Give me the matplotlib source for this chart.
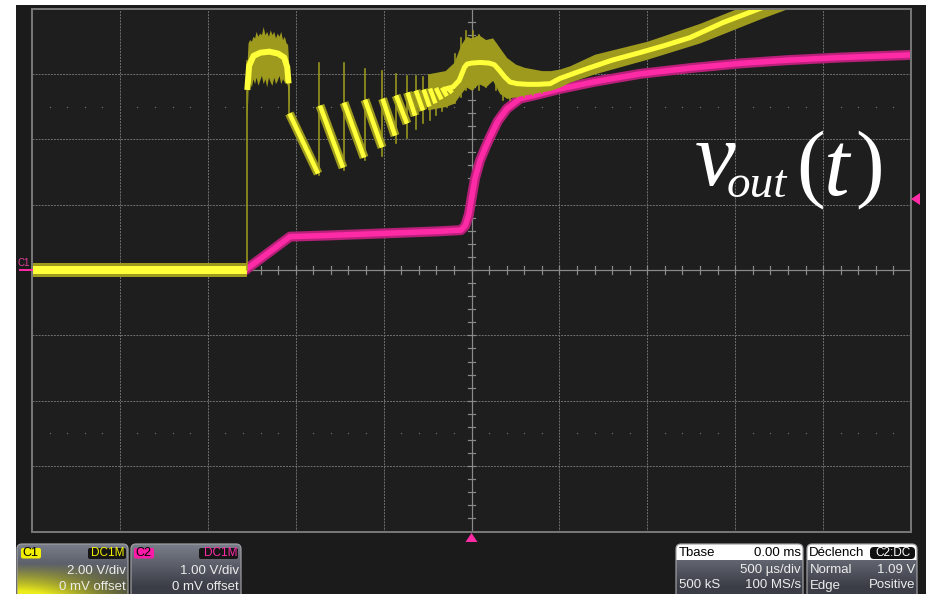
import numpy as np
import matplotlib
matplotlib.use('Agg')
import matplotlib.pyplot as plt
from matplotlib.patches import FancyBboxPatch, Rectangle, Polygon

plt.rcParams['lines.scale_dashes'] = False

W, H, DPI = 926, 594, 100
PX = 72.0 / DPI  # points per pixel

# ---------------- data ----------------
TIME_DIV_US = 500          # 500 us/div, 10 divisions
C1_V_DIV = 2.0             # yellow channel, V/div
C2_V_DIV = 1.0             # pink channel, V/div
TRIG_LEVEL_V = 1.09

# C2 (pink) trace: time (us), volts
c2_t = [-2500, -1285, -1277, -1032, -800, -500, -200, -60, -35, -15, 0, 20, 48, 80, 105,
        150, 202, 276, 400, 503, 700, 958, 1250, 1527, 1800, 2100, 2500]
c2_v = [0.0, 0.0, 0.02, 0.51, 0.53, 0.56, 0.59, 0.61, 0.68, 0.85, 1.09, 1.40, 1.67, 1.88, 2.03,
        2.28, 2.47, 2.62, 2.70, 2.77, 2.88, 3.00, 3.09, 3.16, 3.21, 3.25, 3.29]

# C1 (yellow) baseline before the step
c1_base_t = [-2500, -1278]
c1_base_v = [0.0, 0.0]

# C1 plateau core
c1_plat_t = [-1274, -1265, -1240, -1200, -1150, -1100, -1065, -1048, -1042]
c1_plat_v = [5.6, 6.25, 6.55, 6.65, 6.68, 6.62, 6.5, 6.2, 5.8]
# C1 plateau noise envelope
c1_penv_t = [-1277, -1271, -1262, -1252, -1243, -1234, -1225, -1215, -1205, -1195, -1185, -1175,
             -1165, -1155, -1145, -1135, -1125, -1115, -1105, -1095, -1085, -1075, -1065,
             -1055, -1046, -1038]
c1_penv_hi = [6.3, 6.95, 7.05, 7.0, 7.15, 7.1, 7.3, 7.15, 7.25, 7.2, 7.45, 7.2, 7.3, 7.15, 7.35,
              7.2, 7.3, 7.1, 7.25, 7.15, 7.3, 7.05, 7.15, 6.95, 6.9, 6.1]
c1_penv_lo = [4.6, 5.5, 5.75, 5.6, 5.85, 5.7, 5.9, 5.65, 5.8, 5.95, 5.7, 5.85, 5.6, 5.9, 5.75,
              5.65, 5.9, 5.7, 5.8, 5.95, 5.7, 5.85, 5.75, 5.8, 5.6, 4.9]

# C1 sawtooth teeth: start (t, V) -> end (t, V)
c1_tooth_t0 = [-1036, -862, -725, -606, -506, -429, -364, -316, -272, -236, -202, -168, -137]
c1_tooth_v0 = [4.79, 5.03, 5.12, 5.21, 5.24, 5.34, 5.43, 5.49, 5.52, 5.55, 5.57, 5.58, 5.58]
c1_tooth_t1 = [-873, -731, -611, -509, -435, -367, -321, -276, -239, -205, -171, -140, -110]
c1_tooth_v1 = [2.95, 3.13, 3.44, 3.75, 4.11, 4.48, 4.72, 4.88, 5.00, 5.10, 5.22, 5.32, 5.42]

# C1 thin spikes: time, low, high (V)
c1_spike_t = [-1277, -1038, -867, -728, -608, -508, -432, -366, -318, -274, -237, -203, -169,
              -138, -95, -60, -30, 10, 40, 80, 140, 180, 220, 260, 300, 350, 400]
c1_spike_lo = [0.0, 4.8, 2.9, 3.05, 3.35, 3.5, 3.9, 4.05, 4.3, 4.5, 4.6, 4.75, 4.85,
               5.0, 5.1, 5.3, 5.5, 5.55, 5.5, 5.6, 5.5, 5.2, 5.2, 5.3, 5.3, 5.35, 5.4]
c1_spike_hi = [6.4, 6.2, 6.32, 6.32, 6.15, 6.08, 6.0, 5.95, 5.95, 5.9, 5.85, 5.85, 5.9,
               6.0, 6.6, 7.1, 7.3, 7.3, 7.2, 7.0, 6.9, 6.3, 6.2, 6.1, 6.1, 6.1, 6.05]

# C1 tail (bump and final ramp) core
c1_tail_t = [-140, -105, -70, -40, -25, 0, 48, 100, 130, 160, 190, 219, 260, 320, 380, 447,
             503, 590, 674, 800, 958, 1100, 1243, 1431, 1641, 1900]
c1_tail_v = [5.55, 5.6, 5.8, 6.2, 6.3, 6.33, 6.35, 6.33, 6.28, 6.1, 5.9, 5.75, 5.7, 5.68,
             5.68, 5.7, 5.86, 6.03, 6.19, 6.42, 6.65, 6.87, 7.11, 7.57, 8.0, 8.5]
# C1 tail noise envelope
c1_tenv_t = [-250, -150, -100, -60, -30, 0, 40, 80, 120, 160, 200, 250, 300, 350, 400, 450,
             503, 560, 700, 1000, 1300, 1650, 1900]
c1_tenv_hi = [6.0, 6.1, 6.35, 6.9, 7.15, 7.1, 7.2, 7.05, 7.1, 6.8, 6.5, 6.3, 6.2, 6.15, 6.1,
              6.1, 6.15, 6.25, 6.6, 7.0, 7.55, 8.3, 8.8]
c1_tenv_lo = [4.9, 5.0, 5.1, 5.4, 5.6, 5.5, 5.7, 5.6, 5.8, 5.4, 5.25, 5.3, 5.35, 5.4, 5.45,
              5.5, 5.6, 5.75, 6.0, 6.45, 6.95, 7.7, 8.2]

# Info panel texts
c1_label, c1_coupling, c1_scale, c1_offset = "C1", "DC1M", "2.00 V/div", "0 mV offset"
c2_label, c2_coupling, c2_scale, c2_offset = "C2", "DC1M", "1.00 V/div", "0 mV offset"
tb_title, tb_delay, tb_scale, tb_samples, tb_rate = "Tbase", "0.00 ms", "500 µs/div", "500 kS", "100 MS/s"
trg_title, trg_src, trg_mode, trg_level, trg_type, trg_slope = "Déclench", "C2:DC", "Normal", "1.09 V", "Edge", "Positive"

# ---------------- colors ----------------
BG = '#1e1e1e'
YEL = '#ffff3a'
YEL_DIM = '#9d9a1e'
PINK = '#ff2aa6'
PINK_DIM = '#b8207a'
GRID = '#6e6e6e'
AXC = '#8a8a8a'

fig = plt.figure(figsize=(W / DPI, H / DPI), dpi=DPI, facecolor='white')

# background layer (pixel coords)
bg = fig.add_axes([0, 0, 1, 1], zorder=0)
bg.set_xlim(0, W); bg.set_ylim(H, 0); bg.axis('off')
bg.add_patch(Rectangle((16, 5), W - 16, H - 5, facecolor='#1b1b1b', edgecolor='none'))
bg.add_patch(Rectangle((32, 8.5), 879, 523, facecolor=BG, edgecolor='none'))

# scope screen (data coords: time in us, vertical in divisions)
L, R, T, B = 32, 911, 8.5, 531.5
ax = fig.add_axes([L / W, 1 - B / H, (R - L) / W, (B - T) / H], zorder=1)
ax.set_facecolor('none')
ax.set_xlim(-5 * TIME_DIV_US, 5 * TIME_DIV_US)
ax.set_ylim(-4, 4)
ax.set_xticks([]); ax.set_yticks([])
for s in ax.spines.values():
    s.set_visible(False)

# grid
for k in range(-4, 5):
    if k in (-5, 0, 5):
        continue
    ax.axvline(k * TIME_DIV_US, color=GRID, lw=1 * PX, ls=(0, (1.4, 0.8)), zorder=1)
for k in range(-3, 4):
    if k == 0:
        continue
    ax.axhline(k, color=GRID, lw=1 * PX, ls=(0, (1.4, 0.8)), zorder=1)
# sub-division dot rows
xs = np.arange(-5 * TIME_DIV_US, 5 * TIME_DIV_US + 1, TIME_DIV_US / 5)
for yy in (-2.5, 2.5):
    ax.plot(xs, np.full_like(xs, yy, dtype=float), ls='none', marker='s', ms=1.2 * PX,
            color=GRID, mew=0, zorder=1)
# center axes with ticks
ax.axvline(0, color=AXC, lw=1.2 * PX, zorder=1)
ax.axhline(0, color=AXC, lw=1.2 * PX, zorder=1)
for yy in np.arange(-4, 4.01, 0.2):
    ax.plot([-20, 20], [yy, yy], color=AXC, lw=1.2 * PX, zorder=1)
for xx in np.arange(-2500, 2501, 100):
    ax.plot([xx, xx], [-0.055, 0.055], color=AXC, lw=1.2 * PX, zorder=1)
# border
ax.add_patch(Rectangle((-2500, -4), 5000, 8, fill=False, edgecolor='#767676',
                       lw=2 * PX, zorder=6, clip_on=False))

# ---- C2 pink trace ----
c2_y = np.array(c2_v) / C2_V_DIV
ax.plot(c2_t, c2_y, color=PINK_DIM, lw=10 * PX, solid_capstyle='butt', zorder=2)
ax.plot(c2_t, c2_y, color=PINK, lw=5.5 * PX, solid_capstyle='butt', zorder=2)

# ---- C1 yellow trace ----
def cy(v):
    return np.array(v, dtype=float) / C1_V_DIV

# baseline
ax.plot(c1_base_t, cy(c1_base_v), color=YEL_DIM, lw=14 * PX, solid_capstyle='butt', zorder=3)
ax.plot(c1_base_t, cy(c1_base_v), color=YEL, lw=8 * PX, solid_capstyle='butt', zorder=3)
# envelopes
ax.fill_between(c1_penv_t, cy(c1_penv_lo), cy(c1_penv_hi), color=YEL_DIM, lw=0, zorder=3)
ax.fill_between(c1_tenv_t, cy(c1_tenv_lo), cy(c1_tenv_hi), color=YEL_DIM, lw=0, zorder=3)
# spikes
for t, lo, hi in zip(c1_spike_t, c1_spike_lo, c1_spike_hi):
    ax.plot([t, t], cy([lo, hi]), color=YEL_DIM, lw=1.6 * PX, zorder=3)
# teeth
for t0, v0, t1, v1 in zip(c1_tooth_t0, c1_tooth_v0, c1_tooth_t1, c1_tooth_v1):
    ax.plot([t0, t1], cy([v0, v1]), color=YEL_DIM, lw=9 * PX, solid_capstyle='butt', zorder=3)
for t0, v0, t1, v1 in zip(c1_tooth_t0, c1_tooth_v0, c1_tooth_t1, c1_tooth_v1):
    ax.plot([t0, t1], cy([v0, v1]), color=YEL, lw=4.5 * PX, solid_capstyle='butt', zorder=4)
# plateau + tail cores
ax.plot(c1_plat_t, cy(c1_plat_v), color=YEL, lw=6 * PX, zorder=4)
ax.plot(c1_tail_t, cy(c1_tail_v), color=YEL_DIM, lw=10 * PX, zorder=3)
ax.plot(c1_tail_t, cy(c1_tail_v), color=YEL, lw=5 * PX, zorder=4)

# ---------------- foreground layer ----------------
fg = fig.add_axes([0, 0, 1, 1], zorder=3)
fg.set_facecolor('none')
fg.set_xlim(0, W); fg.set_ylim(H, 0); fg.axis('off')

# trigger markers
fg.add_patch(Polygon([(465.5, 542), (477.5, 542), (471.5, 533)], closed=True, color=PINK, lw=0))
fg.add_patch(Polygon([(920, 193), (920, 205), (911, 199)], closed=True, color=PINK, lw=0))
# channel ground marker
fg.plot([20, 32], [269.5, 269.5], color=PINK, lw=2 * PX)
fg.text(18, 263, "C1", color='#e0409a', fontsize=7, family='Liberation Sans', va='center', ha='left')

# v_out(t) annotation
serif = 'Liberation Serif'
fg.text(695, 185, "v", color='white', fontsize=66, family=serif, style='italic', va='baseline')
fg.text(727, 197, "out", color='white', fontsize=34, family=serif, style='italic', va='baseline')
fg.text(796, 190, "(", color='white', fontsize=62, family=serif, va='baseline')
fg.text(824, 195, "t", color='white', fontsize=66, family=serif, style='italic', va='baseline')
fg.text(855, 190, ")", color='white', fontsize=62, family=serif, va='baseline')

SANS = 'Liberation Sans'
TXT = '#ececec'
FS = 9.5


def panel(x0, x1, y0, y1=600, glow=False, header=False):
    w, h = x1 - x0, y1 - y0
    patch = FancyBboxPatch((x0, y0), w, h, boxstyle='round,pad=0,rounding_size=5',
                           facecolor='none', edgecolor='#a0a0a4', lw=1.2 * PX, zorder=5)
    fg.add_patch(patch)
    ny, nx = 60, 120
    yy = np.linspace(0, 1, ny)[:, None]
    xx = np.linspace(0, 1, nx)[None, :]
    top = np.array([0x7a, 0x7e, 0x8a]) / 255.0
    bot = np.array([0x3a, 0x3d, 0x46]) / 255.0
    f = np.clip(yy * 1.3, 0, 1)[..., None]
    img = top * (1 - f) + bot * f
    img = np.broadcast_to(img, (ny, nx, 3)).copy()
    if glow:
        wgt = np.clip((yy - 0.35) / 0.55, 0, 1) * np.exp(-(xx / 0.75) ** 2)
        wgt = np.clip(wgt * 1.1, 0, 1)[..., None]
        yel = np.array([0.93, 0.93, 0.1])
        img = img * (1 - wgt) + yel * wgt
    im = fg.imshow(img, extent=(x0, x1, y1, y0), aspect='auto', zorder=4, interpolation='bilinear')
    im.set_clip_path(patch)
    if header:
        hp = Rectangle((x0, y0), w, 16, facecolor='white', edgecolor='none', zorder=4.5)
        fg.add_patch(hp)
        hp.set_clip_path(patch)


# C1 panel
panel(17, 128, 544, glow=True)
fg.add_patch(FancyBboxPatch((21, 548), 20, 10.5, boxstyle='round,pad=0,rounding_size=2',
                            facecolor='#f2ef00', edgecolor='none', zorder=6))
fg.text(22.5, 553.5, c1_label, color='black', fontsize=9, family=SANS, va='center', zorder=7)
fg.add_patch(FancyBboxPatch((88, 548), 38, 11, boxstyle='round,pad=0,rounding_size=2',
                            facecolor='#161616', edgecolor='none', zorder=6))
fg.text(125, 553.5, c1_coupling, color='#f2ef00', fontsize=8.5, family=SANS, va='center', ha='right', zorder=7)
fg.text(126, 571.5, c1_scale, color=TXT, fontsize=FS, family=SANS, va='center', ha='right', zorder=7)
fg.text(126, 587.5, c1_offset, color=TXT, fontsize=FS, family=SANS, va='center', ha='right', zorder=7)

# C2 panel
panel(131, 241, 544)
fg.add_patch(FancyBboxPatch((134, 548), 20, 10.5, boxstyle='round,pad=0,rounding_size=2',
                            facecolor='#ff1aa8', edgecolor='none', zorder=6))
fg.text(135.5, 553.5, c2_label, color='black', fontsize=9, family=SANS, va='center', zorder=7)
fg.add_patch(FancyBboxPatch((199, 548), 39, 11, boxstyle='round,pad=0,rounding_size=2',
                            facecolor='#161616', edgecolor='none', zorder=6))
fg.text(237.5, 553.5, c2_coupling, color='#ff2aa8', fontsize=8.5, family=SANS, va='center', ha='right', zorder=7)
fg.text(239, 571.5, c2_scale, color=TXT, fontsize=FS, family=SANS, va='center', ha='right', zorder=7)
fg.text(239, 587.5, c2_offset, color=TXT, fontsize=FS, family=SANS, va='center', ha='right', zorder=7)

# Timebase panel
panel(676, 803, 544, header=True)
fg.text(679, 552.5, tb_title, color='black', fontsize=FS, family=SANS, va='center', zorder=7)
fg.text(801, 552.5, tb_delay, color='black', fontsize=FS, family=SANS, va='center', ha='right', zorder=7)
fg.text(801, 570, tb_scale, color=TXT, fontsize=FS, family=SANS, va='center', ha='right', zorder=7)
fg.text(679, 585.5, tb_samples, color=TXT, fontsize=FS, family=SANS, va='center', zorder=7)
fg.text(801, 585.5, tb_rate, color=TXT, fontsize=FS, family=SANS, va='center', ha='right', zorder=7)

# Trigger panel
panel(807, 917, 544, header=True)
fg.text(809, 552.5, trg_title, color='black', fontsize=FS, family=SANS, va='center', zorder=7)
fg.add_patch(FancyBboxPatch((870, 547), 45, 12, boxstyle='round,pad=0,rounding_size=4',
                            facecolor='#101010', edgecolor='none', zorder=6))
fg.text(892.5, 553, trg_src, color='white', fontsize=8.5, family=SANS, va='center', ha='center', zorder=7)
fg.text(810, 570, trg_mode, color=TXT, fontsize=FS, family=SANS, va='center', zorder=7)
fg.text(915, 570, trg_level, color=TXT, fontsize=FS, family=SANS, va='center', ha='right', zorder=7)
fg.text(810, 585.5, trg_type, color=TXT, fontsize=FS, family=SANS, va='center', zorder=7)
fg.text(915, 585.5, trg_slope, color=TXT, fontsize=FS, family=SANS, va='center', ha='right', zorder=7)

fig.savefig('out.png', dpi=DPI, facecolor='white')
